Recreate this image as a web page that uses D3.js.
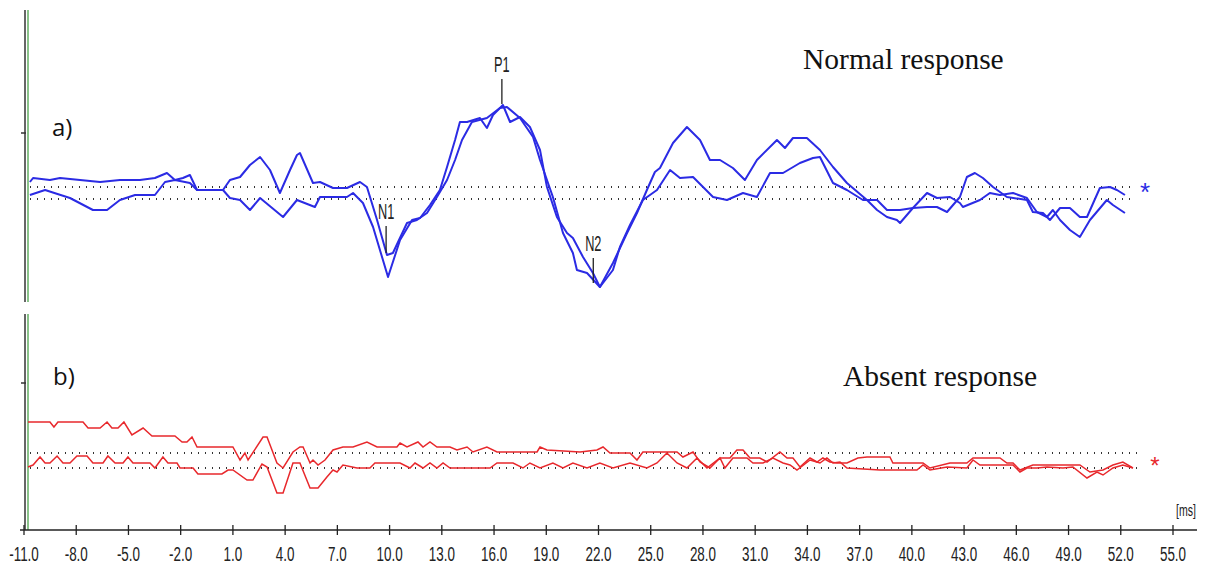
<!DOCTYPE html>
<meta charset="utf-8">
<style>
body{margin:0;background:white;}
svg{display:block;}
.tick-label{font-family:"Liberation Sans","DejaVu Sans",sans-serif;font-size:21px;fill:#222;}
.peak{font-family:"Liberation Sans","DejaVu Sans",sans-serif;font-size:22px;fill:#222;}
.title{font-family:"Liberation Serif","DejaVu Serif",serif;font-size:29.5px;fill:#111;}
.panel{font-family:"Open Sans","Liberation Sans",sans-serif;font-size:24px;fill:#111;}
</style>
<body>
<script src="https://cdn.jsdelivr.net/npm/d3@7"></script>
<script>
// x ticks (ms)
var xTicks = [-11,-8,-5,-2,1,4,7,10,13,16,19,22,25,28,31,34,37,40,43,46,49,52,55];

// a) normal response, two superimposed runs [ms, amplitude]
var normalA = [[-10.66,-0.2],[-9.79,0.3],[-8.36,-0.5],[-7.04,-1.7],[-6.23,-1.7],[-5.49,-0.7],[-4.62,-0.2],[-3.48,-0.2],
  [-2.9,1.1],[-2.33,1.3],[-1.47,1.0],[-1.06,0.3],[0.43,0.3],[0.83,-0.5],[1.41,-0.7],[1.98,-1.7],[2.56,-0.5],[3.88,-2.4],
  [4.68,-0.7],[5.71,-1.4],[6.0,-0.4],[7.55,-0.4],[7.9,0.0],[8.47,-1.0],[9.05,-3.4],[9.91,-8.4],[10.6,-4.7],[11.29,-2.7],
  [11.75,-2.5],[12.32,-1.2],[12.89,0.3],[13.3,2.6],[13.76,5.3],[14.04,7.1],[14.45,7.1],[15.19,7.5],[15.59,6.5],[15.94,7.8],
  [16.51,8.8],[16.92,7.1],[17.49,7.6],[18.06,6.6],[18.64,4.3],[19.04,0.6],[19.61,-2.4],[20.19,-4.0],[20.53,-4.5],[21.11,-6.4],
  [21.68,-8.0],[22.08,-9.4],[22.83,-7.0],[23.64,-4.0],[24.21,-2.0],[24.78,0.3],[25.24,2.1],[25.53,2.5],[26.28,5.0],[27.08,6.6],
  [27.83,5.3],[28.4,3.3],[28.98,3.3],[29.72,2.5],[30.41,1.3],[31.1,3.3],[32.25,5.3],[32.71,4.5],[33.17,5.5],[33.97,5.5],
  [34.72,4.3],[35.47,2.6],[36.27,1.0],[37.42,-0.7],[38.0,-1.7],[38.57,-2.4],[39.14,-2.7],[39.32,-3.0],[40.06,-1.5],[40.87,0.0],
  [41.44,-0.5],[42.19,-0.4],[42.76,-1.0],[42.93,-1.4],[43.91,-0.7],[44.48,0.0],[45.06,-0.2],[45.81,0.0],[46.61,-0.5],[47.18,-1.9],
  [47.76,-2.4],[48.1,-1.7],[48.51,-2.7],[49.08,-3.7],[49.65,-4.4],[50.23,-2.7],[51.2,-0.7],[51.55,-1.2],[52.24,-2.0]];
var normalB = [[-10.66,1.1],[-10.48,1.5],[-9.51,1.3],[-8.93,1.5],[-7.78,1.3],[-6.63,1.1],[-5.49,1.3],[-4.34,1.3],[-3.48,1.5],
  [-2.79,2.0],[-2.33,1.3],[-1.87,1.5],[-1.47,1.8],[-1.06,0.3],[0.43,0.3],[0.83,1.3],[1.41,1.6],[1.98,2.8],[2.56,3.6],[3.13,2.3],
  [3.7,0.0],[4.28,2.3],[4.68,3.8],[4.85,4.0],[5.6,1.0],[6.0,1.1],[6.75,0.5],[7.55,0.5],[8.3,1.1],[8.7,0.6],[9.28,-2.7],
  [9.85,-6.2],[10.19,-6.0],[11.0,-3.0],[11.57,-2.7],[12.15,-2.0],[12.72,-0.4],[13.3,1.3],[13.76,3.3],[14.16,5.3],[14.73,7.1],
  [15.59,7.5],[16.34,8.5],[16.74,8.6],[17.49,7.5],[18.24,5.6],[18.64,3.3],[19.38,-0.4],[19.96,-4.0],[20.53,-6.0],[20.76,-7.7],
  [21.34,-8.0],[22.08,-9.4],[22.83,-7.7],[23.23,-5.4],[23.81,-3.2],[24.55,-0.7],[25.36,0.3],[26.11,2.3],[26.68,1.5],[27.43,1.6],
  [28.58,-0.4],[29.38,-0.7],[30.3,0.0],[31.1,-0.4],[31.85,2.0],[32.6,2.0],[33.57,3.0],[34.32,3.5],[34.72,3.6],[35.47,1.0],
  [36.27,0.3],[37.19,-0.7],[38.0,-0.7],[38.57,-1.7],[39.32,-1.7],[40.06,-1.5],[40.87,-1.4],[41.44,-1.4],[42.02,-1.9],[42.76,-0.4],
  [43.16,1.6],[43.62,2.0],[44.08,1.5],[44.66,0.6],[45.46,-0.4],[46.61,-0.7],[46.95,-1.9],[47.53,-2.0],[47.93,-2.7],[48.51,-1.5],
  [49.08,-1.5],[49.65,-2.4],[50.06,-2.4],[50.8,0.5],[51.38,0.6],[51.78,0.3],[52.24,-0.2]];

// b) absent response
var absentA = [[-10.77,3.85],[-9.51,3.85],[-9.28,3.35],[-9.05,3.85],[-7.61,3.85],[-7.32,3.25],[-6.63,3.25],[-6.23,3.85],
  [-5.95,3.25],[-5.6,3.25],[-5.26,3.85],[-4.8,2.55],[-4.16,3.25],[-3.65,2.45],[-2.33,2.45],[-1.92,1.85],[-1.64,1.85],[-1.35,2.35],
  [-1.06,1.35],[1.0,1.35],[1.41,0.05],[1.69,0.75],[1.87,0.05],[2.73,2.35],[2.96,2.35],[3.53,-0.25],[3.88,-0.75],[4.45,0.85],
  [4.85,1.35],[5.03,1.35],[5.43,-0.25],[5.6,0.05],[5.89,-0.45],[6.29,0.05],[6.75,1.05],[7.32,1.35],[7.9,1.35],[8.7,1.85],
  [9.28,1.35],[10.42,1.35],[10.6,1.75],[11.0,1.35],[11.63,1.85],[11.92,1.35],[12.32,1.85],[12.72,1.35],[13.47,1.35],[13.87,1.05],
  [14.45,1.35],[14.79,0.85],[15.59,1.35],[16.17,0.85],[18.47,0.85],[18.64,1.35],[19.04,1.05],[20.94,0.85],[21.91,1.05],[22.26,1.35],
  [22.66,0.75],[23.81,0.75],[24.21,0.05],[24.55,0.85],[26.51,0.85],[26.85,0.35],[27.43,0.85],[27.83,-0.15],[28.4,-0.75],[28.98,0.25],
  [29.55,0.25],[29.95,1.05],[30.3,1.05],[30.7,0.25],[31.27,0.25],[31.68,-0.15],[32.42,0.85],[32.83,0.25],[33.17,0.25],[33.57,-0.65],
  [34.15,0.25],[34.55,-0.15],[34.89,0.25],[35.29,-0.15],[35.7,-0.25],[36.27,-0.25],[36.9,0.25],[37.42,0.35],[38.74,0.35],[38.91,-0.25],
  [40.64,-0.25],[41.04,-0.75],[42.19,-0.25],[43.16,-0.25],[43.51,0.25],[45.06,0.25],[45.46,-0.25],[45.81,-0.25],[46.21,-0.95],
  [46.95,-0.45],[49.65,-0.45],[50.23,-1.15],[50.98,-0.95],[51.55,-0.45],[52.12,-0.15],[52.7,-0.75]];
var absentB = [[-10.77,-0.65],[-10.48,-0.45],[-10.08,0.35],[-9.79,-0.25],[-9.51,-0.25],[-9.1,0.45],[-8.76,-0.25],[-8.36,-0.25],
  [-7.96,0.45],[-7.38,0.45],[-7.04,-0.25],[-6.46,-0.25],[-6.18,0.45],[-5.77,-0.25],[-5.31,-0.25],[-5.03,0.35],[-4.74,-0.25],
  [-3.76,-0.25],[-3.48,-0.75],[-3.02,0.35],[-2.73,-0.25],[-2.21,-0.25],[-2.04,-0.75],[-1.29,-0.75],[-1.01,-1.35],[0.37,-1.35],
  [0.72,-0.95],[1.0,-0.95],[1.81,-1.95],[2.15,-1.95],[2.67,-0.35],[2.96,-0.65],[3.53,-3.25],[3.88,-3.25],[4.45,-0.25],[4.85,-0.25],
  [5.43,-2.75],[5.89,-2.75],[6.4,-1.65],[6.75,-0.95],[6.98,-1.15],[7.32,-0.45],[8.13,-0.75],[8.87,-0.75],[9.16,-0.25],[10.6,-0.25],
  [11.17,-0.75],[11.46,-0.25],[11.92,-0.75],[12.32,-0.25],[12.72,-0.75],[13.07,-0.25],[13.47,-0.75],[15.77,-0.75],[16.17,-0.25],
  [17.09,-0.25],[17.66,-0.75],[18.06,-0.25],[18.64,-0.75],[19.38,-0.25],[19.96,-0.75],[20.53,-0.25],[21.34,-0.75],[22.08,-0.25],
  [22.83,-0.75],[23.81,-0.25],[24.78,-0.75],[25.36,-0.25],[25.93,0.75],[26.51,-0.25],[27.08,-0.75],[27.66,0.25],[28.23,-0.75],
  [28.98,0.25],[29.26,-0.75],[29.72,0.25],[30.53,0.25],[30.87,-0.25],[31.45,-0.25],[32.02,0.25],[32.6,-0.25],[33.0,-0.45],
  [33.4,-0.95],[34.15,0.05],[34.72,-0.25],[35.12,0.25],[35.47,-0.25],[35.87,-0.15],[36.27,-0.75],[38.17,-0.95],[40.29,-0.95],
  [40.64,-0.45],[41.04,-0.95],[42.02,-0.65],[43.16,-0.75],[43.51,0.05],[43.91,-0.45],[45.81,-0.45],[46.21,-1.15],[46.61,-0.75],
  [47.18,-0.75],[47.76,-0.65],[48.68,-0.75],[49.25,-0.65],[50.06,-1.75],[50.63,-1.15],[50.98,-1.45],[51.55,-0.75],[52.12,-0.45],[52.7,-0.75]];

// baselines of the two runs, y tick value
var normalBase = [0.6, -0.6];
var absentBase = [0.75, -0.75];
var yTickVal = 6;

// peak labels on the normal response
var peakNames = ["N1", "P1", "N2"];
var peakTimes = [9.8, 16.45, 21.7];
var peakLevels = [[-3.3, -6.0], [11.4, 8.9], [-6.5, -9.0]];

var W = 1209, H = 570;
var svg = d3.select("body").append("svg").attr("width", W).attr("height", H);

var x = d3.scaleLinear().domain([-11, 55]).range([24, 1173]);
var yA = d3.scaleLinear().domain([-10, 10]).range([293, 93]);
var yB = d3.scaleLinear().domain([-10, 10]).range([560.5, 360.5]);

var blue = "#2b2be4", red = "#e8282c";

// narrow text like the recorder's font
function narrow(sel, px, py, sx) {
  sel.attr("transform", "translate(" + px + "," + py + ") scale(" + sx + ",1)");
}

// left axes (dark line + green line)
function leftAxis(y0, y1, tickY) {
  svg.append("line").attr("x1", 25).attr("x2", 25).attr("y1", y0).attr("y2", y1)
    .attr("stroke", "#333").attr("stroke-width", 1.5);
  svg.append("line").attr("x1", 28).attr("x2", 28).attr("y1", y0).attr("y2", y1)
    .attr("stroke", "#3c9a3c").attr("stroke-width", 1.2);
  svg.append("line").attr("x1", 21).attr("x2", 26).attr("y1", tickY).attr("y2", tickY)
    .attr("stroke", "#333").attr("stroke-width", 1.5);
}
leftAxis(10, 302, yA(yTickVal));
leftAxis(314, 530, yB(yTickVal + 1.75));

// dotted baselines
normalBase.forEach(function (b) {
  svg.append("line").attr("x1", 30).attr("x2", 1131).attr("y1", yA(b)).attr("y2", yA(b))
    .attr("stroke", "#333").attr("stroke-width", 2).attr("stroke-dasharray", "1,6");
});
absentBase.forEach(function (b) {
  svg.append("line").attr("x1", 30).attr("x2", 1140).attr("y1", yB(b)).attr("y2", yB(b))
    .attr("stroke", "#333").attr("stroke-width", 2).attr("stroke-dasharray", "1,6");
});

var lineA = d3.line().x(function (d) { return x(d[0]); }).y(function (d) { return yA(d[1]); });
var lineB = d3.line().x(function (d) { return x(d[0]); }).y(function (d) { return yB(d[1]); });

[normalA, normalB].forEach(function (s) {
  svg.append("path").datum(s).attr("d", lineA).attr("fill", "none")
    .attr("stroke", blue).attr("stroke-width", 2).attr("stroke-linejoin", "round");
});
[absentA, absentB].forEach(function (s) {
  svg.append("path").datum(s).attr("d", lineB).attr("fill", "none")
    .attr("stroke", red).attr("stroke-width", 1.5);
});

// peak markers
peakNames.forEach(function (n, i) {
  var px = x(peakTimes[i]);
  svg.append("line").attr("x1", px).attr("x2", px)
    .attr("y1", yA(peakLevels[i][0])).attr("y2", yA(peakLevels[i][1]))
    .attr("stroke", "#222").attr("stroke-width", 1.3);
  svg.append("text").attr("class", "peak").attr("text-anchor", "middle").text(n)
    .call(narrow, px, yA(peakLevels[i][0]) - 7, 0.58);
});

// asterisks
svg.append("text").attr("x", 1145).attr("y", yA(normalBase[0]) + 14).attr("text-anchor", "middle")
  .attr("fill", blue).style("font-family", "Liberation Sans, sans-serif").style("font-size", "26px").text("*");
svg.append("text").attr("x", 1155).attr("y", yB(0) + 13).attr("text-anchor", "middle")
  .attr("fill", red).style("font-family", "Liberation Sans, sans-serif").style("font-size", "24px").text("*");

// titles and panel letters
svg.append("text").attr("class", "title").attr("x", 803).attr("y", 69).text("Normal response");
svg.append("text").attr("class", "title").attr("x", 843).attr("y", 386).text("Absent response");
svg.append("text").attr("class", "panel").attr("x", 52).attr("y", 136).text("a)");
svg.append("text").attr("class", "panel").attr("x", 53).attr("y", 385).text("b)");

// x axis
var gx = svg.append("g").attr("transform", "translate(0,530)");
gx.append("line").attr("x1", 20).attr("x2", 1197).attr("stroke", "#222").attr("stroke-width", 1.5);
gx.selectAll(".tk").data(xTicks).enter().append("line")
  .attr("x1", function (d) { return x(d); }).attr("x2", function (d) { return x(d); })
  .attr("y1", -5).attr("y2", 5).attr("stroke", "#222").attr("stroke-width", 1.3);
gx.selectAll(".tick-label").data(xTicks).enter().append("text").attr("class", "tick-label")
  .attr("text-anchor", "middle")
  .text(function (d) { return d.toFixed(1); })
  .each(function (d) { d3.select(this).call(narrow, x(d), 31, 0.64); });
svg.append("text").attr("class", "tick-label").attr("text-anchor", "middle").style("font-size", "16px")
  .text("[ms]").call(narrow, 1186, 516, 0.66);
</script>
</body>
